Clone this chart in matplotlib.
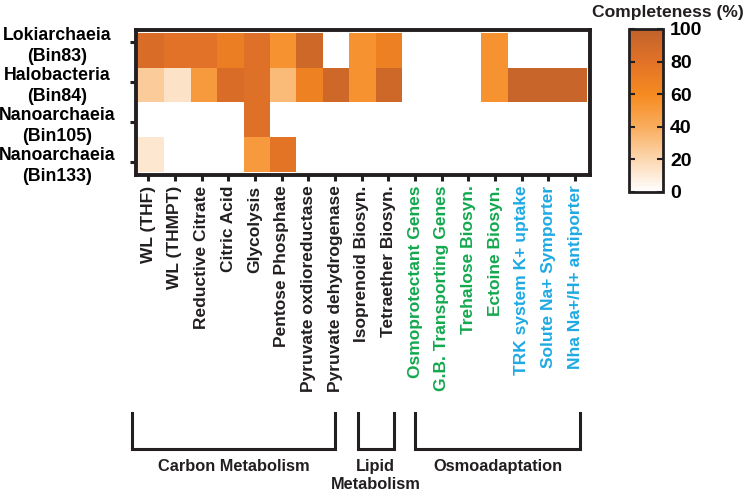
import numpy as np
import matplotlib
matplotlib.use('Agg')
import matplotlib.pyplot as plt
import matplotlib.transforms as mtransforms
from matplotlib.colors import LinearSegmentedColormap

plt.rcParams['font.family'] = ['Liberation Sans', 'DejaVu Sans']
plt.rcParams['font.weight'] = 'bold'

# 데이터
organisms = ['Lokiarchaeia\n(Bin83)', 'Halobacteria\n(Bin84)',
             'Nanoarchaeia\n(Bin105)', 'Nanoarchaeia\n(Bin133)']
pathways = ['WL (THF)', 'WL (THMPT)', 'Reductive Citrate', 'Citric Acid', 'Glycolysis',
            'Pentose Phosphate', 'Pyruvate oxdioreductase', 'Pyruvate dehydrogenase',
            'Isoprenoid Biosyn.', 'Tetraether Biosyn.',
            'Osmoprotectant Genes', 'G.B. Transporting Genes', 'Trehalose Biosyn.',
            'Ectoine Biosyn.',
            'TRK system K+ uptake', 'Solute Na+ Symporter', 'Nha Na+/H+ antiporter']
label_group = ['k'] * 10 + ['g'] * 4 + ['b'] * 3

loki = [85, 80, 80, 70, 82, 55, 92, 0, 55, 68, 0, 0, 0, 55, 0, 0, 0]
halo = [25, 14, 50, 85, 82, 33, 67, 92, 55, 92, 0, 0, 0, 55, 95, 95, 95]
nano105 = [0, 0, 0, 0, 82, 0, 0, 0, 0, 0, 0, 0, 0, 0, 0, 0, 0]
nano133 = [12, 0, 0, 0, 50, 78, 0, 0, 0, 0, 0, 0, 0, 0, 0, 0, 0]

groups = ['Carbon Metabolism', 'Lipid\nMetabolism', 'Osmoadaptation']

data = np.array([loki, halo, nano105, nano133])

cmap = LinearSegmentedColormap.from_list(
    'compl', [(0.0, '#FFFFFF'), (0.2, '#FCD7B0'), (0.4, '#F9AC5C'),
              (0.6, '#F68A20'), (0.8, '#E27227'), (1.0, '#C0622B')])

dark = '#231F20'
colors = {'k': dark, 'g': '#13A84E', 'b': '#1EAAE4'}

fig = plt.figure(figsize=(7.44, 4.92), dpi=100)
ax = fig.add_axes([0.1828, 0.6443, 0.6103, 0.2947])

im = ax.imshow(data, cmap=cmap, vmin=0, vmax=100, aspect='auto',
               extent=(-0.38, 16.44, 3.25, -0.21), interpolation='nearest')
ax.set_xlim(-0.46, 16.56)
ax.set_ylim(3.33, -0.29)

ax.set_xticks(range(len(pathways)))
ax.set_xticklabels(pathways, rotation=90, fontsize=12.5, fontweight='bold')
for t, g in zip(ax.get_xticklabels(), label_group):
    t.set_color(colors[g])
ax.set_yticks(range(len(organisms)))
ax.set_yticklabels(organisms, fontsize=12.8, fontweight='bold', ha='center',
                   linespacing=1.3)
ax.tick_params(direction='out', length=4.5, width=2.2, color=dark)
ax.tick_params(axis='y', pad=52)
ax.tick_params(axis='x', pad=3)
for s in ax.spines.values():
    s.set_linewidth(2.8)
    s.set_color(dark)

# 컬러바
cax = fig.add_axes([0.8454, 0.6098, 0.0457, 0.3313])
cb = fig.colorbar(im, cax=cax, ticks=[0, 20, 40, 60, 80, 100])
cb.outline.set_linewidth(2.0)
cb.outline.set_edgecolor(dark)
cax.tick_params(direction='in', length=4, width=1.5, color=dark, left=True,
                right=True, labelsize=14, pad=5)
for t in cax.get_yticklabels():
    t.set_fontweight('bold')
fig.text(0.898, 0.99, 'Completeness (%)', ha='center', va='top',
         fontsize=12.6, fontweight='bold', color=dark)

# 그룹 괄호
trans = mtransforms.blended_transform_factory(ax.transData, fig.transFigure)
spans = [(-0.6, 7.0), (7.85, 9.2), (10.0, 16.2)]
y_top, y_bot = 0.1606, 0.0874
for (x0, x1), name in zip(spans, groups):
    ax.plot([x0, x0, x1, x1], [y_top, y_bot, y_bot, y_top], color=dark, lw=2.2,
            transform=trans, clip_on=False, solid_joinstyle='miter')
    ax.text((x0 + x1) / 2, 0.068, name, transform=trans, ha='center', va='top',
            fontsize=11.8, fontweight='bold', color=dark, linespacing=1.3)

fig.savefig('out.png', dpi=100)
